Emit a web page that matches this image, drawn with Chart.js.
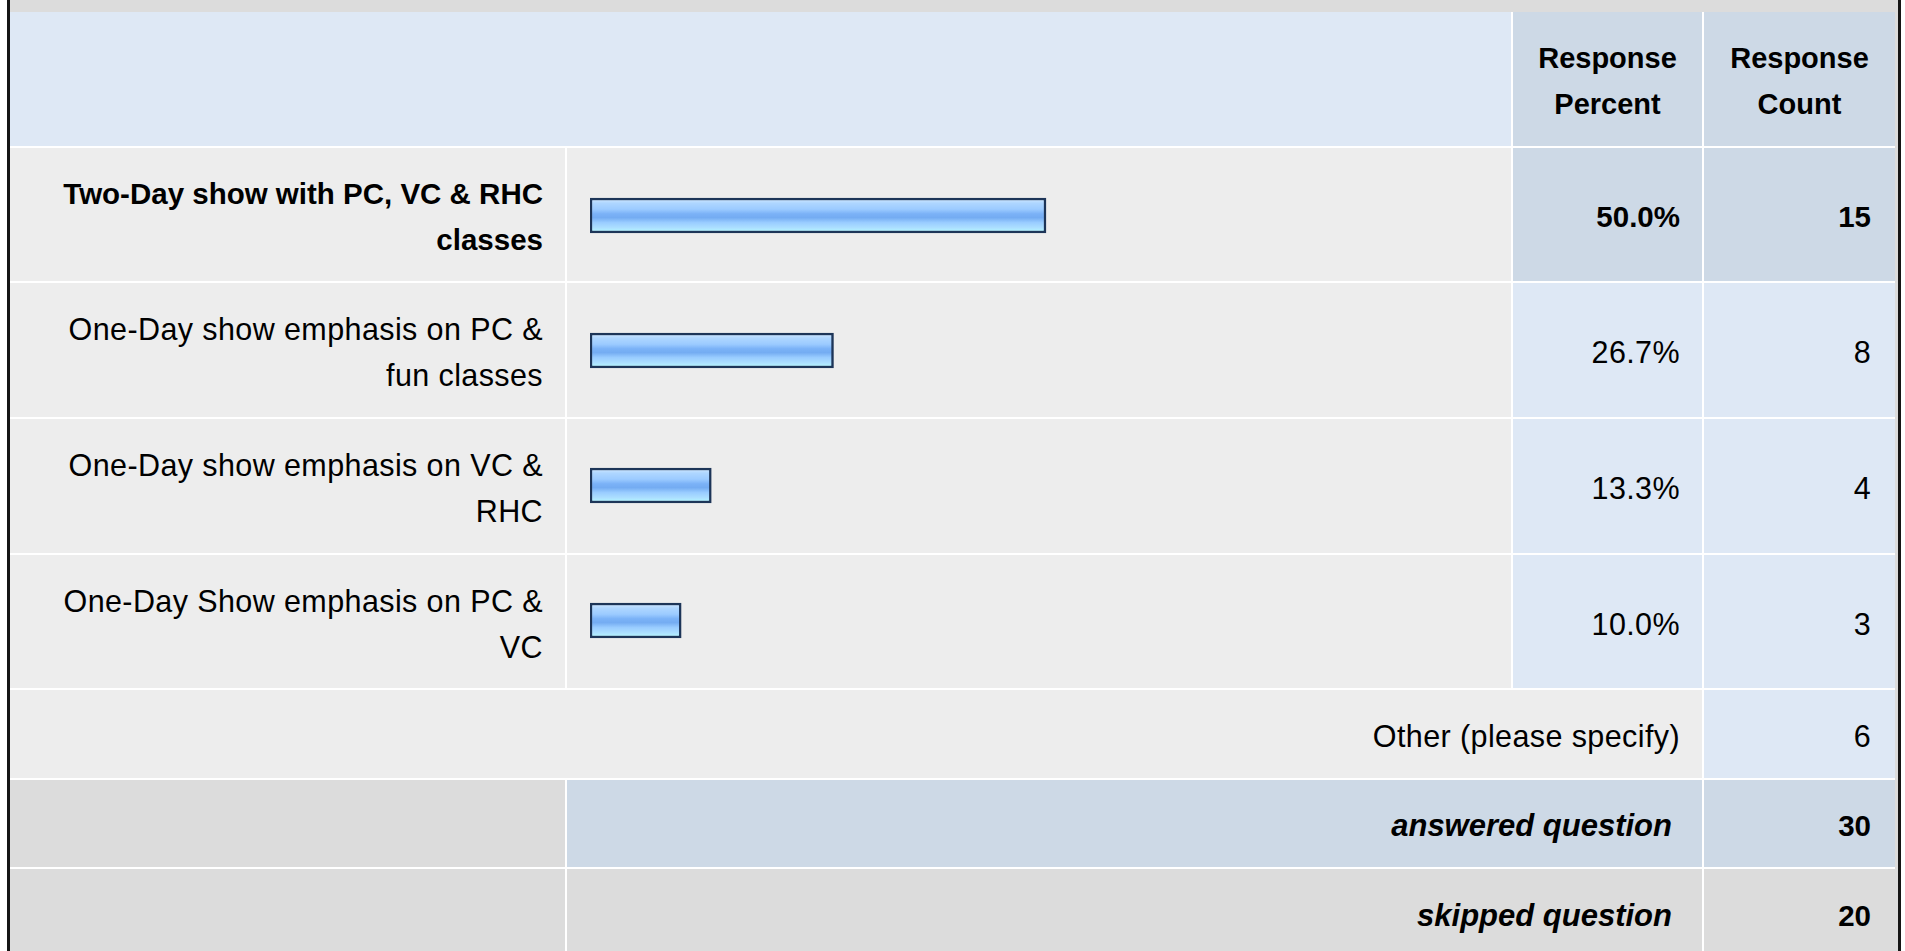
<!DOCTYPE html>
<html>
<head>
<meta charset="utf-8">
<title>Survey results</title>
<script src="https://cdn.jsdelivr.net/npm/chart.js@4/dist/chart.umd.min.js"></script>
<style>
    html, body {
        margin: 0;
        padding: 0;
        background: #ffffff;
        width: 1905px;
        height: 951px;
        overflow: hidden;
        font-family: "Liberation Sans", Arial, sans-serif;
        font-size: 30.5px;
        letter-spacing: 0.4px;
        color: #000;
    }
    #frame {
        position: absolute;
        left: 7px;
        top: 0;
        width: 1888px;
        height: 951px;
        border-left: 3px solid #151515;
        border-right: 3px solid #151515;
        background: #dcdcdc;
    }
    #table {
        position: absolute;
        left: 10px;
        top: 12px;
        width: 1885px;
        display: grid;
        grid-template-columns: 555px 944px 189px 191px;
        grid-template-rows: 134px 133px 134px 134px 133px 88px 87px 90px;
        gap: 2px;
        background: #ffffff;
    }
    .cell {
        display: flex;
        align-items: center;
        justify-content: flex-end;
        text-align: right;
        line-height: 46px;
        padding: 4px 22px 0 0;
        box-sizing: border-box;
    }
    .light { background: #dee8f5; }
    .dark { background: #cdd9e6; }
    .gray { background: #ededed; }
    .grey2 { background: #dcdcdc; }
    .head {
        justify-content: center;
        text-align: center;
        padding: 4px 0 0 0;
        font-weight: bold;
        font-size: 29px;
        letter-spacing: 0;
    }
    .bold { font-weight: bold; font-size: 29.5px; letter-spacing: 0; }
    .total { font-weight: bold; font-style: italic; font-size: 31px; letter-spacing: 0; padding-right: 30px; }
    .count { padding-right: 24px; }
    #bars {
        position: absolute;
        left: 567px;
        top: 148px;
    }
</style>
</head>
<body>
<div id="frame"></div>
<div id="table"></div>
<canvas id="bars" width="944" height="540"></canvas>
<script>
// data
const categories = [
    ["Two-Day show with PC, VC & RHC", "classes"],
    ["One-Day show emphasis on PC &", "fun classes"],
    ["One-Day show emphasis on VC &", "RHC"],
    ["One-Day Show emphasis on PC &", "VC"]
];
const percents = [50.0, 26.7, 13.3, 10.0];
const counts = [15, 8, 4, 3];
const headers = [["Response", "Percent"], ["Response", "Count"]];
const otherLabel = "Other (please specify)";
const otherCount = 6;
const answeredCount = 30;
const skippedCount = 20;

const table = document.getElementById("table");

const addCell = (text, classes, col, span) => {
    const cell = document.createElement("div");
    cell.className = "cell " + classes;
    cell.style.gridColumn = span ? col + " / span " + span : col;
    if (Array.isArray(text)) {
        const inner = document.createElement("div");
        text.forEach((line, i) => {
            if (i > 0) inner.appendChild(document.createElement("br"));
            inner.appendChild(document.createTextNode(line));
        });
        cell.appendChild(inner);
    } else {
        cell.textContent = text;
    }
    table.appendChild(cell);
};

// otsikko
addCell("", "light", 1, 2);
addCell(headers[0], "dark head", 3);
addCell(headers[1], "dark head", 4);

// rivit
categories.forEach((label, i) => {
    const first = i === 0;
    addCell(label, "gray" + (first ? " bold" : ""), 1);
    addCell("", "gray", 2);
    addCell(percents[i].toFixed(1) + "%", (first ? "dark bold" : "light"), 3);
    addCell(counts[i], (first ? "dark bold" : "light") + " count", 4);
});

addCell(otherLabel, "gray", 1, 3);
addCell(otherCount, "light count", 4);

addCell("", "grey2", 1);
addCell("answered question", "dark total", 2, 2);
addCell(answeredCount, "dark bold count", 4);

addCell("", "grey2", 1);
addCell("skipped question", "grey2 total", 2, 2);
addCell(skippedCount, "grey2 bold count", 4);

// kaavio
const barFill = (context) => {
    const chart = context.chart;
    if (!chart.chartArea || !chart.scales.y) return "#9ccbff";
    const y = chart.scales.y.getPixelForValue(context.dataIndex);
    const g = chart.ctx.createLinearGradient(0, y - 17.5, 0, y + 17.5);
    g.addColorStop(0, "#d6ebff");
    g.addColorStop(0.15, "#aed6ff");
    g.addColorStop(0.32, "#9ccbff");
    g.addColorStop(0.45, "#7bb2f7");
    g.addColorStop(0.56, "#74acf2");
    g.addColorStop(0.7, "#99ccff");
    g.addColorStop(0.85, "#acdfff");
    g.addColorStop(1, "#b6ffff");
    return g;
};

const context = document.getElementById("bars").getContext("2d");
const barChart = new Chart(context, {
    type: "bar",
    data: {
        labels: categories,
        datasets: [{
            data: percents,
            backgroundColor: barFill,
            borderColor: "#1d3558",
            borderWidth: 2.5,
            borderSkipped: false,
            barThickness: 35
        }]
    },
    options: {
        indexAxis: "y",
        responsive: false,
        animation: false,
        devicePixelRatio: 1,
        layout: {
            padding: { left: 23, right: 9, top: 0, bottom: 0 }
        },
        plugins: {
            legend: { display: false },
            tooltip: { enabled: false }
        },
        scales: {
            x: { display: false, min: 0, max: 100 },
            y: { display: false }
        }
    }
});
</script>
</body>
</html>
